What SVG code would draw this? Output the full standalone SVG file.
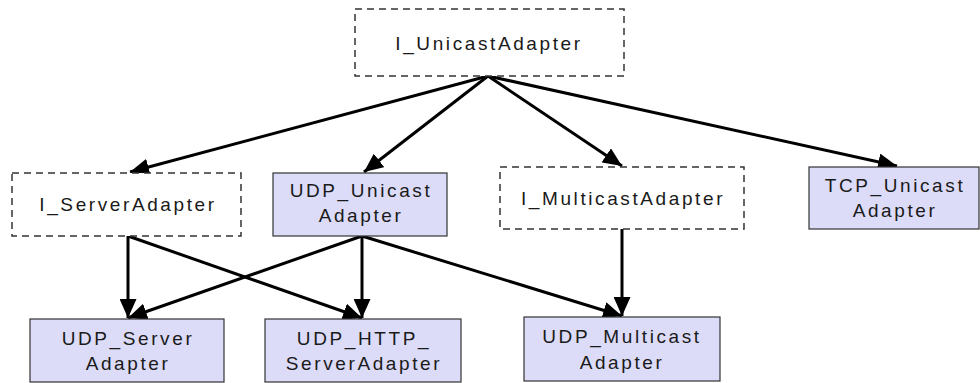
<svg xmlns="http://www.w3.org/2000/svg" width="980" height="383" viewBox="0 0 980 383">
  <style>
    .iface { fill: #ffffff; stroke: #333333; stroke-width: 1.5; stroke-dasharray: 7 5; }
    .impl { fill: #dcdcf8; stroke: #333333; stroke-width: 1.2; }
    .lbl { font-family: "Liberation Sans", Arial, sans-serif; font-size: 19px; letter-spacing: 2.6px; fill: #1a1a1a; text-anchor: middle; }
    .edge { stroke: #000000; stroke-width: 3; fill: none; marker-end: url(#arrow); }
  </style>
  <defs>
    <marker id="arrow" viewBox="0 0 19 17" refX="19" refY="8.5" markerWidth="19" markerHeight="17" orient="auto" markerUnits="userSpaceOnUse">
      <path d="M0,0 L19,8.5 L0,17 z" fill="#000000"/>
    </marker>
  </defs>

  <rect width="980" height="383" fill="#ffffff"/>

  <g id="connectors">
    <line class="edge" x1="488" y1="76" x2="130" y2="172"/>
    <line class="edge" x1="488" y1="76" x2="364" y2="172"/>
    <line class="edge" x1="488" y1="76" x2="622" y2="166"/>
    <line class="edge" x1="488" y1="76" x2="897" y2="166"/>
    <line class="edge" x1="128" y1="236" x2="128" y2="318"/>
    <line class="edge" x1="128" y1="236" x2="362" y2="318"/>
    <line class="edge" x1="362" y1="236" x2="128" y2="318"/>
    <line class="edge" x1="362" y1="236" x2="362" y2="318"/>
    <line class="edge" x1="362" y1="236" x2="622" y2="316"/>
    <line class="edge" x1="622" y1="229" x2="622" y2="316"/>
  </g>

  <g id="I_UnicastAdapter">
    <rect class="iface" x="355" y="9" width="269" height="67"/>
    <text class="lbl" x="489" y="50">I_UnicastAdapter</text>
  </g>

  <g id="I_ServerAdapter">
    <rect class="iface" x="12" y="173" width="229" height="63"/>
    <text class="lbl" x="128" y="211">I_ServerAdapter</text>
  </g>

  <g id="UDP_UnicastAdapter">
    <rect class="impl" x="273" y="173" width="174" height="63"/>
    <text class="lbl" x="361" y="197">UDP_Unicast</text>
    <text class="lbl" x="361" y="222">Adapter</text>
  </g>

  <g id="I_MulticastAdapter">
    <rect class="iface" x="500" y="167" width="244" height="62"/>
    <text class="lbl" x="623" y="205">I_MulticastAdapter</text>
  </g>

  <g id="TCP_UnicastAdapter">
    <rect class="impl" x="809" y="167" width="170" height="62"/>
    <text class="lbl" x="895" y="192">TCP_Unicast</text>
    <text class="lbl" x="895" y="217">Adapter</text>
  </g>

  <g id="UDP_ServerAdapter">
    <rect class="impl" x="30" y="319" width="194" height="63"/>
    <text class="lbl" x="128" y="345">UDP_Server</text>
    <text class="lbl" x="128" y="370">Adapter</text>
  </g>

  <g id="UDP_HTTP_ServerAdapter">
    <rect class="impl" x="265" y="319" width="196" height="63"/>
    <text class="lbl" x="364" y="345">UDP_HTTP_</text>
    <text class="lbl" x="364" y="370">ServerAdapter</text>
  </g>

  <g id="UDP_MulticastAdapter">
    <rect class="impl" x="524" y="317" width="196" height="64"/>
    <text class="lbl" x="622" y="343">UDP_Multicast</text>
    <text class="lbl" x="622" y="369">Adapter</text>
  </g>
</svg>
